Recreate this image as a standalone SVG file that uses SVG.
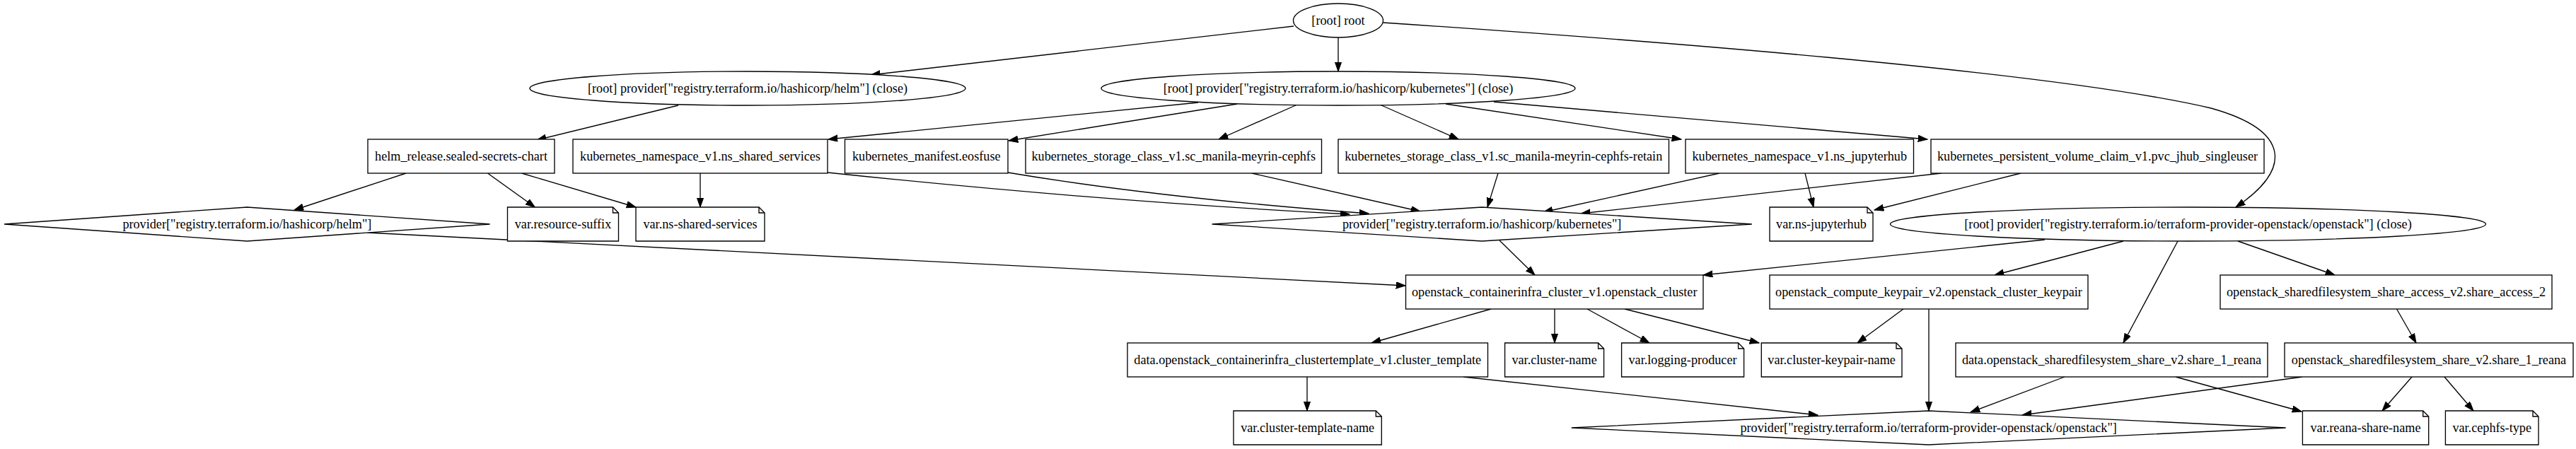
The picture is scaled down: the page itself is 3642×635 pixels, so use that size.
<svg xmlns="http://www.w3.org/2000/svg" width="3642" height="635" viewBox="0 0 3642 635">
<style>
.n rect,.n ellipse,.n polygon,.n path{fill:#fff;stroke:#000;stroke-width:1.33}
.n path.fold{fill:none}
.n text{font-family:"Liberation Serif","Times New Roman",serif;font-size:18.2px;text-anchor:middle;fill:#000}
#edges path{fill:none;stroke:#000;stroke-width:1.33;marker-end:url(#arr)}
</style>
<defs>
<marker id="arr" markerUnits="userSpaceOnUse" markerWidth="15" markerHeight="11" refX="13.3" refY="4.67" orient="auto">
<path d="M0,0 L13.3,4.67 L0,9.33 Z" fill="#000" stroke="#000" stroke-width="1"/>
</marker>
</defs>
<rect width="3642" height="635" fill="#fff"/>
<g id="edges">
<path d="M1829,37 L1231,106"/>
<path d="M1892,53 L1892,101"/>
<path d="M1955.6,32 C2300,55 2900,100 3126,153 C3240,185 3240,240 3161,293"/>
<path d="M959,149 L759,198"/>
<path d="M1694,145 L1171,197"/>
<path d="M1749,147 L1426,199"/>
<path d="M1834,148 L1723,197"/>
<path d="M1951,148 L2062,197"/>
<path d="M2044,147 L2377,197"/>
<path d="M2112,144 L2725,197"/>
<path d="M574,245 L416,297"/>
<path d="M689.5,245 L756.4,293"/>
<path d="M737.7,245 L899,293"/>
<path d="M990,245 L990,293"/>
<path d="M1170,244 Q1560,285 1908,303"/>
<path d="M1425,244 Q1640,280 1935,302"/>
<path d="M1770,245 L2008,299"/>
<path d="M2118,245 L2103,293"/>
<path d="M2431,245 L2182,300"/>
<path d="M2744.6,245 L2235,302"/>
<path d="M2552,245 L2564,293"/>
<path d="M2857,245 L2650,297"/>
<path d="M519,329 L1987,404"/>
<path d="M2120,340 L2170,389"/>
<path d="M2891,339 L2408,389"/>
<path d="M3002,341 L2820,389"/>
<path d="M3079,341 L3002,485"/>
<path d="M3164,341 L3301,389"/>
<path d="M3388.5,437 L3416,485"/>
<path d="M2108,437 L1939,485"/>
<path d="M2198,437 L2198,485"/>
<path d="M2244,437 L2332,485"/>
<path d="M2297,437 L2487,485"/>
<path d="M2691,437 L2626,485"/>
<path d="M2727,437 L2727,581"/>
<path d="M1848,533 L1848,581"/>
<path d="M2069,533 L2570,587"/>
<path d="M2919,533 L2786,583"/>
<path d="M3076,533 L3254,582"/>
<path d="M3255,533 L2859,587"/>
<path d="M3410,533 L3368,581"/>
<path d="M3456,533 L3497,581"/>
</g>
<g id="root" class="n"><ellipse cx="1892" cy="29" rx="63.5" ry="24"/><text x="1892" y="35">[root] root</text></g>
<g id="helm_close" class="n"><ellipse cx="1057" cy="125" rx="308" ry="24"/><text x="1057" y="131">[root] provider["registry.terraform.io/hashicorp/helm"] (close)</text></g>
<g id="kube_close" class="n"><ellipse cx="1892" cy="125" rx="335" ry="24"/><text x="1892" y="131">[root] provider["registry.terraform.io/hashicorp/kubernetes"] (close)</text></g>
<g id="helm_release" class="n"><rect x="520" y="197" width="264" height="48"/><text x="652" y="227">helm_release.sealed-secrets-chart</text></g>
<g id="ns_shared_services" class="n"><rect x="810" y="197" width="360" height="48"/><text x="990" y="227">kubernetes_namespace_v1.ns_shared_services</text></g>
<g id="eosfuse" class="n"><rect x="1194.5" y="197" width="230.5" height="48"/><text x="1309.75" y="227">kubernetes_manifest.eosfuse</text></g>
<g id="sc_cephfs" class="n"><rect x="1450" y="197" width="418.5" height="48"/><text x="1659.25" y="227">kubernetes_storage_class_v1.sc_manila-meyrin-cephfs</text></g>
<g id="sc_cephfs_retain" class="n"><rect x="1892" y="197" width="467.5" height="48"/><text x="2125.75" y="227">kubernetes_storage_class_v1.sc_manila-meyrin-cephfs-retain</text></g>
<g id="ns_jupyterhub" class="n"><rect x="2383" y="197" width="322.5" height="48"/><text x="2544.25" y="227">kubernetes_namespace_v1.ns_jupyterhub</text></g>
<g id="pvc" class="n"><rect x="2730" y="197" width="471" height="48"/><text x="2965.5" y="227">kubernetes_persistent_volume_claim_v1.pvc_jhub_singleuser</text></g>
<g id="helm_provider" class="n"><polygon points="6,317 349.4,293 692.6,317 349.4,341"/><text x="349.4" y="323">provider["registry.terraform.io/hashicorp/helm"]</text></g>
<g id="var_resource_suffix" class="n"><path d="M717.5,293 L866.5,293 L874.5,301 L874.5,341 L717.5,341 Z"/><path class="fold" d="M866.5,293 L866.5,301 L874.5,301"/><text x="796" y="323">var.resource-suffix</text></g>
<g id="var_ns_shared_services" class="n"><path d="M899,293 L1073,293 L1081,301 L1081,341 L899,341 Z"/><path class="fold" d="M1073,293 L1073,301 L1081,301"/><text x="990" y="323">var.ns-shared-services</text></g>
<g id="kube_provider" class="n"><polygon points="1713.6,317 2095.2,293 2476.8,317 2095.2,341"/><text x="2095.2" y="323">provider["registry.terraform.io/hashicorp/kubernetes"]</text></g>
<g id="var_ns_jupyterhub" class="n"><path d="M2502,293 L2640,293 L2648,301 L2648,341 L2502,341 Z"/><path class="fold" d="M2640,293 L2640,301 L2648,301"/><text x="2575" y="323">var.ns-jupyterhub</text></g>
<g id="openstack_close" class="n"><ellipse cx="3093.5" cy="317" rx="421" ry="24"/><text x="3093.5" y="323">[root] provider["registry.terraform.io/terraform-provider-openstack/openstack"] (close)</text></g>
<g id="openstack_cluster" class="n"><rect x="1987.5" y="389" width="420.5" height="48"/><text x="2197.75" y="419">openstack_containerinfra_cluster_v1.openstack_cluster</text></g>
<g id="keypair" class="n"><rect x="2502" y="389" width="450" height="48"/><text x="2727" y="419">openstack_compute_keypair_v2.openstack_cluster_keypair</text></g>
<g id="share_access_2" class="n"><rect x="3139" y="389" width="469" height="48"/><text x="3373.5" y="419">openstack_sharedfilesystem_share_access_v2.share_access_2</text></g>
<g id="cluster_template" class="n"><rect x="1594" y="485" width="509.5" height="48"/><text x="1848.75" y="515">data.openstack_containerinfra_clustertemplate_v1.cluster_template</text></g>
<g id="var_cluster_name" class="n"><path d="M2127.6,485 L2259.6,485 L2267.6,493 L2267.6,533 L2127.6,533 Z"/><path class="fold" d="M2259.6,485 L2259.6,493 L2267.6,493"/><text x="2197.6" y="515">var.cluster-name</text></g>
<g id="var_logging_producer" class="n"><path d="M2292.6,485 L2457.6,485 L2465.6,493 L2465.6,533 L2292.6,533 Z"/><path class="fold" d="M2457.6,485 L2457.6,493 L2465.6,493"/><text x="2379" y="515">var.logging-producer</text></g>
<g id="var_cluster_keypair_name" class="n"><path d="M2490.3,485 L2681,485 L2689,493 L2689,533 L2490.3,533 Z"/><path class="fold" d="M2681,485 L2681,493 L2689,493"/><text x="2589.6" y="515">var.cluster-keypair-name</text></g>
<g id="data_share_1_reana" class="n"><rect x="2765" y="485" width="441" height="48"/><text x="2985.5" y="515">data.openstack_sharedfilesystem_share_v2.share_1_reana</text></g>
<g id="share_1_reana" class="n"><rect x="3230" y="485" width="408" height="48"/><text x="3434" y="515">openstack_sharedfilesystem_share_v2.share_1_reana</text></g>
<g id="var_cluster_template_name" class="n"><path d="M1744,581 L1945.3,581 L1953.3,589 L1953.3,629 L1744,629 Z"/><path class="fold" d="M1945.3,581 L1945.3,589 L1953.3,589"/><text x="1848.7" y="611">var.cluster-template-name</text></g>
<g id="openstack_provider" class="n"><polygon points="2221.8,605 2726.7,581 3231.7,605 2726.7,629"/><text x="2726.7" y="611">provider["registry.terraform.io/terraform-provider-openstack/openstack"]</text></g>
<g id="var_reana_share_name" class="n"><path d="M3255.4,581 L3425.7,581 L3433.7,589 L3433.7,629 L3255.4,629 Z"/><path class="fold" d="M3425.7,581 L3425.7,589 L3433.7,589"/><text x="3344.5" y="611">var.reana-share-name</text></g>
<g id="var_cephfs_type" class="n"><path d="M3457.4,581 L3581,581 L3589,589 L3589,629 L3457.4,629 Z"/><path class="fold" d="M3581,581 L3581,589 L3589,589"/><text x="3523.2" y="611">var.cephfs-type</text></g>
</svg>
